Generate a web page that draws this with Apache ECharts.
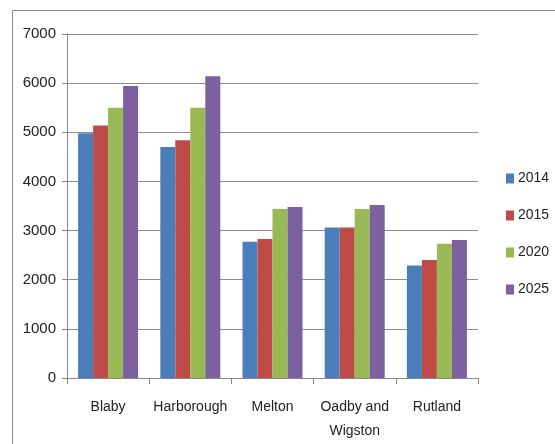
<!DOCTYPE html>
<html>
<head>
<meta charset="utf-8">
<script src="https://cdn.jsdelivr.net/npm/echarts@6/dist/echarts.min.js"></script>
<style>
  html, body { margin: 0; padding: 0; background: #fff; }
  #chart { width: 555px; height: 444px; }
</style>
</head>
<body>
<div id="chart"></div>
<script>
// Population projections by district
const categories = ['Blaby', 'Harborough', 'Melton', 'Oadby and\nWigston', 'Rutland'];
const years = ['2014', '2015', '2020', '2025'];
const values2014 = [4980, 4700, 2770, 3060, 2290];
const values2015 = [5140, 4840, 2830, 3060, 2400];
const values2020 = [5500, 5500, 3440, 3440, 2730];
const values2025 = [5940, 6140, 3480, 3520, 2810];
const yTicks = [0, 1000, 2000, 3000, 4000, 5000, 6000, 7000];

const seriesValues = [values2014, values2015, values2020, values2025];
const colors = ['#4A7EBB', '#BE4B48', '#98B954', '#7D60A0'];
const font = '"Liberation Sans", Arial, sans-serif';

const chart = echarts.init(document.getElementById('chart'), null, { renderer: 'canvas' });
chart.setOption({
  animation: false,
  backgroundColor: '#fff',
  color: colors,
  graphic: [{
    type: 'rect',
    shape: { x: 12.5, y: 10.5, width: 560, height: 460 },
    style: { fill: 'none', stroke: '#888', lineWidth: 1 },
    silent: true
  }],
  grid: { left: 67, right: 77, top: 34, bottom: 66, containLabel: false },
  legend: {
    orient: 'vertical',
    left: 501,
    top: 165,
    itemWidth: 8,
    itemHeight: 10,
    itemGap: 20,
    icon: 'rect',
    textStyle: { fontFamily: font, fontSize: 14, color: '#222', lineHeight: 17, padding: [0, 0, 0, -1] },
    data: years
  },
  xAxis: {
    type: 'category',
    data: categories,
    axisLine: { lineStyle: { color: '#888' } },
    axisTick: { show: true, length: 6, lineStyle: { color: '#888' } },
    axisLabel: { interval: 0, fontFamily: font, fontSize: 14, color: '#222', margin: 17, lineHeight: 24 }
  },
  yAxis: {
    type: 'value',
    min: yTicks[0],
    max: yTicks[yTicks.length - 1],
    interval: 1000,
    axisLine: { show: true, lineStyle: { color: '#888' } },
    axisTick: { show: true, length: 5, lineStyle: { color: '#888' } },
    splitLine: { lineStyle: { color: '#8c8c8c' } },
    axisLabel: { fontFamily: font, fontSize: 15, color: '#222', margin: 11, formatter: v => String(v) }
  },
  series: years.map((y, i) => ({
    name: y,
    type: 'bar',
    data: seriesValues[i],
    barGap: '0%',
    barCategoryGap: '27%'
  }))
});
</script>
</body>
</html>
